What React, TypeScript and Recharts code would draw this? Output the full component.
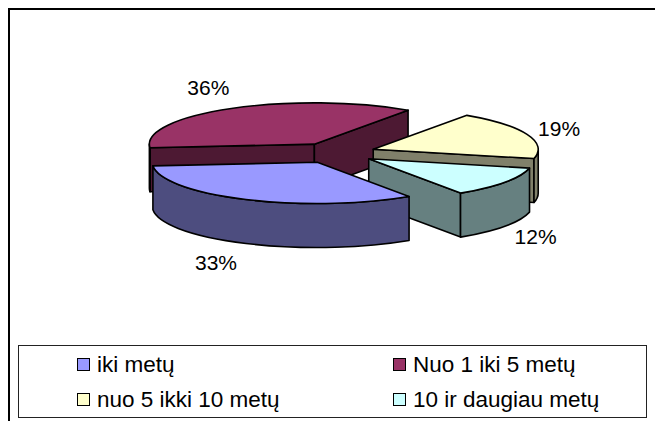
import React from "react";
import { PieChart, Pie, Legend } from "recharts";

const categories = ["iki metų", "Nuo 1 iki 5 metų", "nuo 5 ikki 10 metų", "10 ir daugiau metų"];
const shares = [33, 36, 19, 12];
const topColors = ["#9999FF", "#993366", "#FFFFCC", "#CCFFFF"];
const wallColors = ["#4D4D7F", "#4D1933", "#80806A", "#668080"];

// slices are painted back to front, so the pie starts at the maroon slice
const paintOrder = [1, 2, 3, 0];

const pieData = paintOrder.map((i) => ({
  name: categories[i],
  value: shares[i],
  top: topColors[i],
  wall: wallColors[i],
  slot: i,
}));

const WIDTH = 655;
const HEIGHT = 421;
const TILT = 0.25;
const DEPTH = 44;
const EXPLODE = 41;
const EDGE = 1.6;
const FONT = "'Liberation Sans', Arial, sans-serif";

// label shift from the slice's rim point, by slot
const labelShift = [
  [-30, 63],
  [-23, -21],
  [32, -6],
  [31, 54],
];

const rad = (deg: number) => (deg * Math.PI) / 180;

function Slice3D(props: any) {
  const { cx, cy, outerRadius: r, startAngle, endAngle, midAngle, top, wall } = props;
  // screen angles run clockwise from east
  const a0 = -startAngle;
  const a1 = -endAngle;
  const mid = -midAngle;
  const ox = cx + EXPLODE * Math.cos(rad(mid));
  const oy = cy + EXPLODE * TILT * Math.sin(rad(mid));
  const ry = r * TILT;
  const pt = (a: number): [number, number] => [ox + r * Math.cos(rad(a)), oy + ry * Math.sin(rad(a))];
  const arc = (from: number, to: number, sweep: number, dy = 0) => {
    const [x, y] = pt(to);
    const large = Math.abs(to - from) > 180 ? 1 : 0;
    return `A${r} ${ry} 0 ${large} ${sweep} ${x} ${y + dy}`;
  };

  const cutWall = (a: number, normal: number) => {
    if (Math.sin(rad(normal)) <= 0) return null;
    const [x, y] = pt(a);
    const d = `M${ox} ${oy}L${x} ${y}L${x} ${y + DEPTH}L${ox} ${oy + DEPTH}Z`;
    return <path d={d} fill={wall} stroke="#000" strokeWidth={EDGE} strokeLinejoin="round" />;
  };

  // only the near half of the rim shows a wall
  const rims: [number, number][] = [];
  for (const k of [0, 360]) {
    const from = Math.max(a0, k);
    const to = Math.min(a1, k + 180);
    if (to > from) rims.push([from, to]);
  }

  const [sx, sy] = pt(a0);

  return (
    <g>
      {cutWall(a0, a0 - 90)}
      {cutWall(a1, a1 + 90)}
      {rims.map(([from, to]) => {
        const [fx, fy] = pt(from);
        const [tx, ty] = pt(to);
        const d = `M${fx} ${fy}${arc(from, to, 1)}L${tx} ${ty + DEPTH}${arc(to, from, 0, DEPTH)}Z`;
        return <path key={from} d={d} fill={wall} stroke="#000" strokeWidth={EDGE} strokeLinejoin="round" />;
      })}
      <path
        d={`M${ox} ${oy}L${sx} ${sy}${arc(a0, a1, 1)}Z`}
        fill={top}
        stroke="#000"
        strokeWidth={EDGE}
        strokeLinejoin="round"
      />
    </g>
  );
}

function SliceLabel(props: any) {
  const { cx, cy, outerRadius: r, midAngle, value, index } = props;
  const a = rad(-midAngle);
  const reach = r + EXPLODE;
  const [dx, dy] = labelShift[pieData[index].slot];
  return (
    <text
      x={cx + reach * Math.cos(a) + dx}
      y={cy + reach * TILT * Math.sin(a) + dy}
      textAnchor="middle"
      dominantBaseline="central"
      fontFamily={FONT}
      fontSize={21}
      fill="#000"
    >
      {value}%
    </text>
  );
}

function LegendBox() {
  return (
    <div
      style={{
        boxSizing: "border-box",
        width: "100%",
        height: "100%",
        border: "1px solid #222",
        background: "#fff",
        display: "grid",
        gridTemplateColumns: "316px 1fr",
        gridTemplateRows: "35px 35px",
        paddingLeft: 58,
        paddingTop: 1,
        fontFamily: FONT,
        fontSize: 22.5,
        color: "#000",
      }}
    >
      {categories.map((name, i) => (
        <div key={name} style={{ display: "flex", alignItems: "center", whiteSpace: "nowrap" }}>
          <span
            style={{
              boxSizing: "border-box",
              width: 13,
              height: 13,
              marginRight: 7,
              flexShrink: 0,
              background: topColors[i],
              border: "1.5px solid #000",
            }}
          />
          {name}
        </div>
      ))}
    </div>
  );
}

export default function App() {
  return (
    <div style={{ position: "absolute", left: 0, top: 0, width: WIDTH, height: HEIGHT, background: "#fff" }}>
      <div
        style={{
          position: "absolute",
          left: 8,
          top: 8,
          right: 0,
          bottom: 0,
          borderTop: "2px solid #000",
          borderLeft: "2px solid #000",
        }}
      />
      <PieChart
        width={WIDTH}
        height={HEIGHT}
        margin={{ top: 0, right: 0, bottom: 0, left: 0 }}
        style={{ position: "absolute", left: 0, top: 0 }}
      >
        <Pie
          data={pieData}
          dataKey="value"
          nameKey="name"
          cx={335}
          cy={153}
          outerRadius={165}
          startAngle={-175}
          endAngle={-535}
          stroke="none"
          shape={Slice3D}
          label={SliceLabel}
          labelLine={false}
          isAnimationActive={false}
        />
        <Legend
          content={<LegendBox />}
          wrapperStyle={{ left: 18, top: 345, width: 629, height: 73 }}
        />
      </PieChart>
    </div>
  );
}
